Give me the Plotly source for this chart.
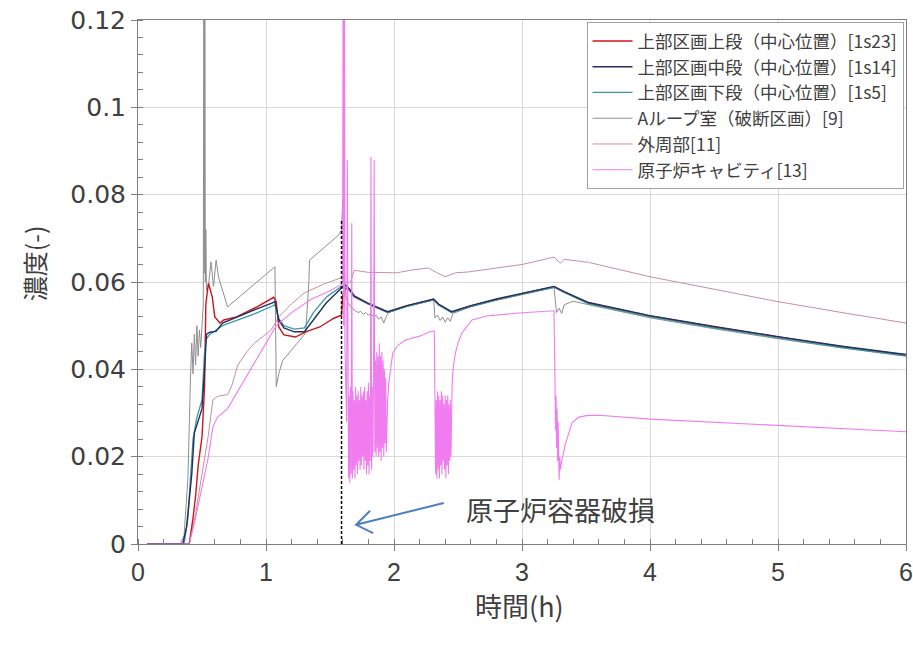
import plotly.graph_objects as go

# ---------------- data (time in h, concentration in -) ----------------
RED_T = [0.07, 0.40, 0.43, 0.45, 0.47, 0.50, 0.52, 0.53, 0.55, 0.58, 0.60, 0.64, 0.67, 0.77, 0.93,
         1.06, 1.08, 1.10, 1.14, 1.23, 1.31, 1.42, 1.53, 1.59, 1.60, 1.62, 1.65, 1.69, 1.80, 1.90,
         1.95, 2.10, 2.27, 2.31, 2.35, 2.45, 2.60, 2.80, 3.00, 3.25, 3.33, 3.52, 4.00, 4.50, 5.00,
         5.50, 6.00]
RED_V = [0, 0, 0.006, 0.011, 0.018, 0.0245, 0.036, 0.055, 0.0597, 0.0566, 0.052, 0.0506, 0.0513, 0.052, 0.0543,
         0.0565, 0.0555, 0.0497, 0.0479, 0.0474, 0.0486, 0.0497, 0.0517, 0.0524, 0.0570, 0.0586, 0.0582, 0.0566, 0.0550, 0.0537,
         0.0531, 0.0545, 0.0558, 0.0560, 0.0548, 0.0531, 0.0545, 0.0560, 0.0573, 0.0589, 0.0577, 0.0552, 0.0522, 0.0497, 0.0474,
         0.0452, 0.0433]

NAVY_T = [0.07, 0.35, 0.38, 0.40, 0.42, 0.44, 0.47, 0.50, 0.52, 0.535, 0.56, 0.61, 0.66, 0.77, 0.91,
          1.05, 1.07, 1.10, 1.14, 1.22, 1.30, 1.37, 1.47, 1.59, 1.62, 1.65, 1.69, 1.80, 1.90, 1.95,
          2.10, 2.27, 2.31, 2.35, 2.45, 2.60, 2.80, 3.00, 3.25, 3.33, 3.52, 4.00, 4.50, 5.00, 5.50, 6.00]
NAVY_V = [0, 0, 0.004, 0.0094, 0.016, 0.0254, 0.028, 0.031, 0.040, 0.048, 0.0485, 0.0487, 0.0506, 0.052, 0.0536,
          0.0552, 0.0555, 0.0513, 0.0495, 0.0486, 0.0486, 0.0513, 0.0552, 0.0586, 0.0592, 0.0585, 0.0568, 0.0551, 0.0538, 0.0532,
          0.0546, 0.0559, 0.0561, 0.0549, 0.0532, 0.0546, 0.0561, 0.0574, 0.0590, 0.0578, 0.0553, 0.0523, 0.0498, 0.0475, 0.0453, 0.0434]

TEAL_T = [0.07, 0.36, 0.39, 0.41, 0.43, 0.46, 0.50, 0.52, 0.535, 0.56, 0.61, 0.66, 0.77, 0.91, 1.05,
          1.07, 1.10, 1.14, 1.22, 1.30, 1.37, 1.47, 1.59, 1.62, 1.65, 1.69, 1.80, 1.90, 1.95, 2.10,
          2.27, 2.31, 2.35, 2.45, 2.60, 2.80, 3.00, 3.25, 3.33, 3.52, 4.00, 4.50, 5.00, 5.50, 6.00]
TEAL_V = [0, 0, 0.006, 0.014, 0.024, 0.029, 0.033, 0.044, 0.047, 0.048, 0.049, 0.050, 0.0512, 0.0527, 0.0545,
          0.0548, 0.0516, 0.0500, 0.0492, 0.0495, 0.0530, 0.0565, 0.0590, 0.0594, 0.0583, 0.0566, 0.0549, 0.0536, 0.0530, 0.0544,
          0.0557, 0.0559, 0.0547, 0.0530, 0.0544, 0.0559, 0.0572, 0.0588, 0.0576, 0.0550, 0.0520, 0.0495, 0.0472, 0.0450, 0.0431]

GREY_T = [0.07, 0.33, 0.36, 0.39, 0.41, 0.42, 0.43, 0.44, 0.45, 0.46, 0.47, 0.48, 0.49, 0.50, 0.51,
          0.515, 0.518, 0.522, 0.526, 0.53, 0.535, 0.55, 0.57, 0.59, 0.61, 0.63, 0.70, 1.07, 1.08, 1.10,
          1.13, 1.31, 1.335, 1.34, 1.57, 1.59, 1.60, 1.61, 1.62, 1.64, 1.66, 1.68, 1.70, 1.72, 1.74,
          1.76, 1.78, 1.80, 1.82, 1.84, 1.86, 1.88, 1.90, 1.92, 1.94, 1.96, 2.10, 2.27, 2.31, 2.32,
          2.34, 2.36, 2.38, 2.40, 2.42, 2.44, 2.46, 2.60, 2.80, 3.00, 3.25, 3.27, 3.29, 3.31, 3.33,
          3.40, 3.52, 4.00, 4.50, 5.00, 5.50, 6.00]
GREY_V = [0, 0, 0.002, 0.015, 0.038, 0.046, 0.039, 0.048, 0.041, 0.050, 0.043, 0.049, 0.045, 0.050, 0.055,
          0.14, 0.062, 0.14, 0.060, 0.072, 0.058, 0.059, 0.0646, 0.059, 0.065, 0.061, 0.0543, 0.0635, 0.036, 0.039,
          0.042, 0.0483, 0.0600, 0.065, 0.0708, 0.072, 0.079, 0.064, 0.057, 0.0552, 0.0545, 0.0538, 0.0534, 0.0530, 0.0533,
          0.0526, 0.0530, 0.0524, 0.0528, 0.0520, 0.0524, 0.0515, 0.0520, 0.0506, 0.0522, 0.0530, 0.0544, 0.0557, 0.0559, 0.0518,
          0.0524, 0.0512, 0.0520, 0.0508, 0.0518, 0.0510, 0.0528, 0.0543, 0.0558, 0.0571, 0.0587, 0.0530, 0.0540, 0.0528, 0.0548,
          0.0556, 0.0548, 0.0518, 0.0493, 0.0470, 0.0449, 0.0430]

ROSY_T = [0.07, 0.40, 0.45, 0.50, 0.55, 0.585, 0.62, 0.70, 0.73, 0.78, 0.85, 0.91, 1.04, 1.10, 1.20,
          1.30, 1.45, 1.59, 1.62, 1.66, 1.69, 1.80, 2.02, 2.15, 2.27, 2.33, 2.40, 2.48, 2.58, 2.80,
          3.00, 3.25, 3.28, 3.30, 3.33, 3.38, 3.52, 4.00, 4.50, 5.00, 5.50, 6.00]
ROSY_V = [0, 0, 0.007, 0.016, 0.025, 0.033, 0.0338, 0.0342, 0.036, 0.041, 0.044, 0.046, 0.049, 0.052, 0.055,
          0.0575, 0.0595, 0.061, 0.0598, 0.0600, 0.0627, 0.0622, 0.0621, 0.0628, 0.0632, 0.0622, 0.0612, 0.0621, 0.0623, 0.0632,
          0.0640, 0.0657, 0.0648, 0.0643, 0.0652, 0.0650, 0.0645, 0.0612, 0.0584, 0.0555, 0.0530, 0.0506]

# 原子炉キャビティ, split into its calm and oscillating stretches
VIO_RISE_T = [0.07, 0.40, 0.45, 0.50, 0.55, 0.585, 0.62, 0.70, 0.80, 0.90, 1.00, 1.08, 1.20, 1.35, 1.50,
              1.59, 1.598, 1.603, 1.607, 1.612, 1.617, 1.625, 1.630, 1.635]
VIO_RISE_V = [0, 0, 0.006, 0.013, 0.020, 0.0268, 0.029, 0.031, 0.036, 0.041, 0.046, 0.050, 0.053, 0.056, 0.058,
              0.0595, 0.060, 0.14, 0.050, 0.14, 0.045, 0.036, 0.028, 0.088]
VIO_BURST1_T = [1.640, 1.645, 1.650, 1.655, 1.660, 1.665, 1.670, 1.675, 1.680, 1.685,
                1.690, 1.695, 1.700, 1.705, 1.710, 1.715, 1.720, 1.725, 1.730, 1.735,
                1.740, 1.745, 1.750, 1.755, 1.760, 1.765, 1.770, 1.775, 1.780, 1.785,
                1.790, 1.795, 1.800, 1.805, 1.810, 1.815, 1.820, 1.825, 1.830, 1.835,
                1.840, 1.845, 1.850, 1.855, 1.860, 1.865, 1.870, 1.875, 1.880, 1.885,
                1.890, 1.895, 1.900, 1.905, 1.910, 1.915, 1.920, 1.925, 1.930, 1.935, 1.940]
VIO_BURST1_V = [0.030, 0.015, 0.034, 0.014, 0.036, 0.016, 0.0735, 0.015, 0.035, 0.017,
                0.033, 0.015, 0.036, 0.018, 0.034, 0.016, 0.035, 0.019, 0.033, 0.017,
                0.036, 0.018, 0.034, 0.020, 0.035, 0.017, 0.036, 0.019, 0.033, 0.016,
                0.035, 0.018, 0.037, 0.016, 0.034, 0.019, 0.0886, 0.017, 0.036, 0.020,
                0.038, 0.088, 0.021, 0.042, 0.020, 0.044, 0.022, 0.043, 0.020, 0.046,
                0.021, 0.043, 0.019, 0.044, 0.022, 0.042, 0.020, 0.040, 0.023, 0.038, 0.021]
VIO_REC1_T = [1.945, 1.950, 1.960, 1.975, 1.990, 2.030, 2.090, 2.200, 2.280, 2.315]
VIO_REC1_V = [0.028, 0.033, 0.037, 0.041, 0.0437, 0.0455, 0.0467, 0.0476, 0.0486, 0.0488]
VIO_BURST2_T = [2.320, 2.325, 2.330, 2.335, 2.340, 2.345, 2.350, 2.355, 2.360, 2.365,
                2.370, 2.375, 2.380, 2.385, 2.390, 2.395, 2.400, 2.405, 2.410, 2.415,
                2.420, 2.425, 2.430, 2.435, 2.440, 2.445, 2.450]
VIO_BURST2_V = [0.034, 0.016, 0.033, 0.015, 0.035, 0.017, 0.034, 0.015, 0.033, 0.018,
                0.035, 0.016, 0.034, 0.019, 0.032, 0.017, 0.034, 0.015, 0.033, 0.018,
                0.034, 0.016, 0.032, 0.019, 0.033, 0.020, 0.030]
VIO_REC2_T = [2.455, 2.465, 2.480, 2.500, 2.530, 2.610, 2.720, 2.975, 3.230, 3.250]
VIO_REC2_V = [0.0375, 0.041, 0.0437, 0.046, 0.0483, 0.0513, 0.0522, 0.0529, 0.0534, 0.0534]
VIO_BURST3_T = [3.258, 3.262, 3.266, 3.270, 3.274, 3.278, 3.282, 3.286, 3.290, 3.295, 3.300]
VIO_BURST3_V = [0.036, 0.026, 0.034, 0.022, 0.031, 0.019, 0.028, 0.016, 0.0147, 0.020, 0.017]
VIO_TAIL_T = [3.310, 3.340, 3.390, 3.440, 3.500, 3.600, 4.000, 4.500, 5.000, 5.500, 6.000]
VIO_TAIL_V = [0.019, 0.023, 0.0277, 0.029, 0.0294, 0.0295, 0.0286, 0.0279, 0.0272, 0.0265, 0.0257]

VIOLET_T = VIO_RISE_T + VIO_BURST1_T + VIO_REC1_T + VIO_BURST2_T + VIO_REC2_T + VIO_BURST3_T + VIO_TAIL_T
VIOLET_V = VIO_RISE_V + VIO_BURST1_V + VIO_REC1_V + VIO_BURST2_V + VIO_REC2_V + VIO_BURST3_V + VIO_TAIL_V

NAMES = ["上部区画上段（中心位置）[1s23]", "上部区画中段（中心位置）[1s14]", "上部区画下段（中心位置）[1s5]",
         "Aループ室（破断区画）[9]", "外周部[11]", "原子炉キャビティ[13]"]

BREACH_TIME = 1.59          # 原子炉容器破損
BREACH_LINE_TOP = 0.074
ARROW_TAIL = (2.389, 0.0094)
ARROW_HEAD = (1.704, 0.0044)
ARROW_ARM_A = (1.813, 0.0076)
ARROW_ARM_B = (1.837, 0.0025)
LABEL_POS = (2.545, 0.0078)

# ---------------- figure ----------------
series = [
    # (draw order) name index, t, v, colour, width
    (3, GREY_T, GREY_V, "#8f8f8f", 1.0),
    (4, ROSY_T, ROSY_V, "#c4919b", 1.0),
    (0, RED_T, RED_V, "#d0141e", 1.4),
    (2, TEAL_T, TEAL_V, "#3a9aa8", 1.3),
    (1, NAVY_T, NAVY_V, "#26305e", 1.4),
    (5, VIOLET_T, VIOLET_V, "#f07cf0", 1.1),
]

fig = go.Figure()
for idx, t, v, col, w in series:
    fig.add_trace(go.Scatter(
        x=t, y=v, mode="lines", name=NAMES[idx],
        line=dict(color=col, width=w),
        legendrank=idx + 1, legendgroup=f"g{idx}",
    ))

fig.add_shape(type="line", xref="x", yref="y",
              x0=BREACH_TIME, x1=BREACH_TIME, y0=0, y1=BREACH_LINE_TOP,
              line=dict(color="black", width=1.5, dash="3px,2px"))
fig.add_shape(type="path", xref="x", yref="y",
              path=(f"M {ARROW_TAIL[0]} {ARROW_TAIL[1]} L {ARROW_HEAD[0]} {ARROW_HEAD[1]} "
                    f"M {ARROW_ARM_A[0]} {ARROW_ARM_A[1]} L {ARROW_HEAD[0]} {ARROW_HEAD[1]} "
                    f"L {ARROW_ARM_B[0]} {ARROW_ARM_B[1]}"),
              line=dict(color="#4f7fbf", width=2))

fig.add_annotation(x=LABEL_POS[0], y=LABEL_POS[1], xref="x", yref="y",
                   text="原子炉容器破損", showarrow=False, xanchor="left", yanchor="middle",
                   font=dict(family="Noto Sans CJK JP", size=27, color="#404040"))
fig.add_annotation(x=-0.136, y=0.535, xref="paper", yref="paper", text="濃度(-)",
                   textangle=-90, showarrow=False, xanchor="center", yanchor="middle",
                   font=dict(family="Noto Sans CJK JP", size=25, color="#404040"))
fig.add_annotation(x=0.497, y=-0.117, xref="paper", yref="paper", text="時間(h)",
                   showarrow=False, xanchor="center", yanchor="middle",
                   font=dict(family="Noto Sans CJK JP", size=27, color="#404040"))

fig.update_xaxes(
    range=[0, 6], dtick=1, tick0=0, automargin=False, ticklabeloverflow="allow",
    showline=True, linecolor="#7f7f7f", linewidth=1, mirror=True,
    ticks="outside", ticklen=6, tickcolor="#7f7f7f",
    showgrid=True, gridcolor="#d9d9d9", gridwidth=1, zeroline=False,
    minor=dict(dtick=0.2, ticks="inside", ticklen=5, tickcolor="#7f7f7f", showgrid=False),
    tickfont=dict(family="Liberation Sans", size=25, color="#404040"),
)
fig.update_yaxes(
    range=[0, 0.12], dtick=0.02, tick0=0, automargin=False, ticklabeloverflow="allow",
    showline=True, linecolor="#7f7f7f", linewidth=1, mirror=True,
    ticks="outside", ticklen=6, tickcolor="#7f7f7f",
    showgrid=True, gridcolor="#d9d9d9", gridwidth=1, zeroline=False,
    minor=dict(dtick=0.004, ticks="inside", ticklen=5, tickcolor="#7f7f7f", showgrid=False),
    tickfont=dict(family="DejaVu Sans", size=25, color="#404040"),
)

fig.update_layout(
    width=913, height=645,
    margin=dict(l=138, r=7, t=20, b=101, autoexpand=False),
    paper_bgcolor="white", plot_bgcolor="white",
    showlegend=True,
    legend=dict(x=0.584, y=0.996, xanchor="left", yanchor="top",
                bgcolor="white", bordercolor="#a0a0a0", borderwidth=1,
                font=dict(family="Noto Sans CJK JP", size=17.5, color="#404040"),
                itemwidth=40, tracegroupgap=2, traceorder="normal"),
)

# the page's default 8px body margin would shift the figure; remove it so it sits at (0, 0)
fig.write_html("out.html",
               config={"displayModeBar": False},
               post_script="document.body.style.margin='0px';document.body.style.overflow='hidden';")
